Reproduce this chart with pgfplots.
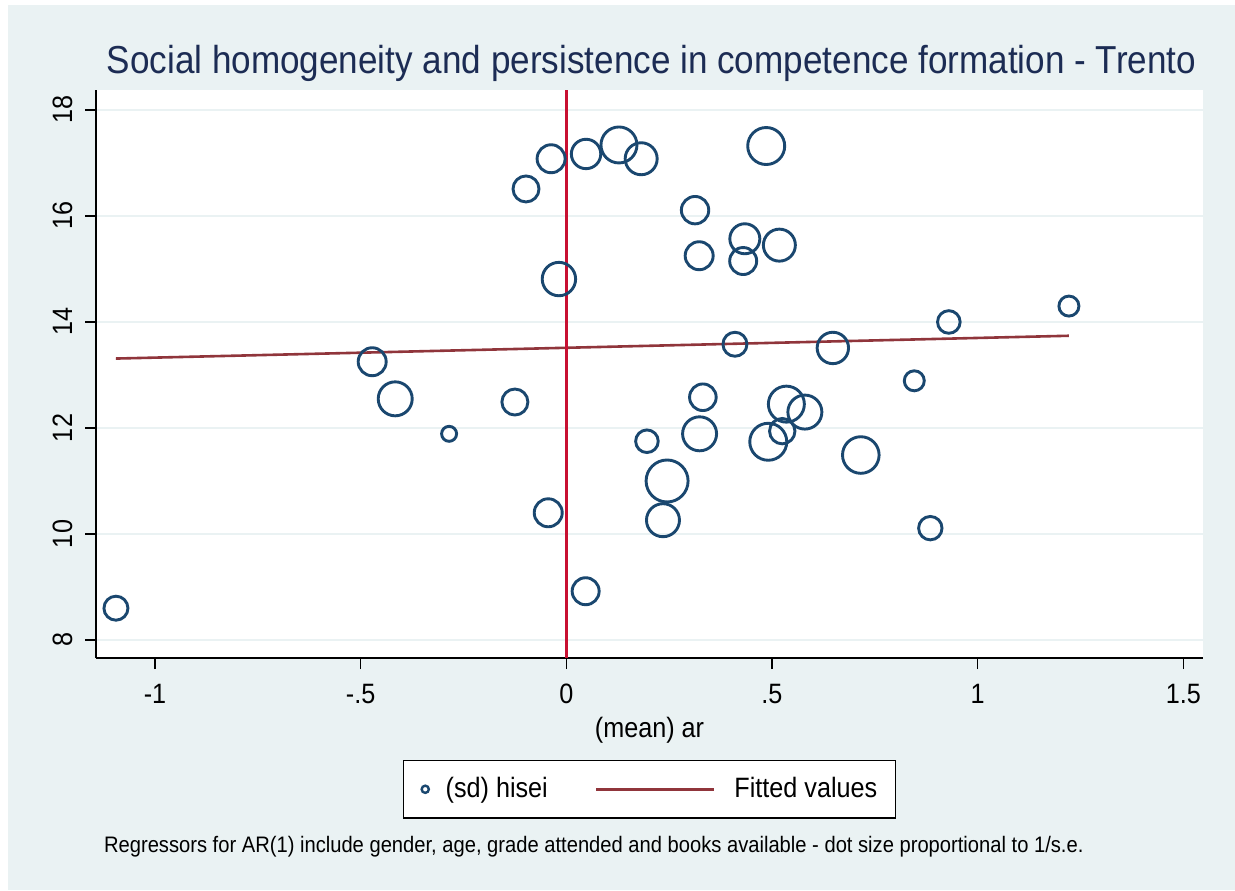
\documentclass[border=0pt]{standalone}
\usepackage{fontspec}
\setmainfont{Liberation Sans}[FakeStretch=0.9]
\usepackage{pgfplots}
\pgfplotsset{compat=1.18}
\definecolor{bg}{RGB}{234,242,243}
\definecolor{navy}{RGB}{26,71,111}
\definecolor{maroon}{RGB}{144,53,59}
\definecolor{crim}{RGB}{200,16,50}
\definecolor{titlec}{RGB}{28,44,84}
\pgfplotsset{
  legline/.style={legend image code/.code={\draw[##1] (0pt,0pt) -- (59pt,0pt);}},
  legmark/.style={legend image code/.code={\draw[##1] plot coordinates {(0pt,0pt)};}},
}
\begin{document}
\begin{tikzpicture}
\useasboundingbox (0pt,0pt) rectangle (617.5pt,445pt);
\fill[bg] (4pt,0pt) rectangle (617.5pt,442.5pt);
\node[anchor=base, text=titlec, font=\fontsize{19.5}{23}\selectfont] at (325.75pt,408pt)
  {Social homogeneity and persistence in competence formation - Trento};
\node[anchor=base west, font=\fontsize{11.2}{13}\selectfont] at (48.5pt,18.6pt)
  {Regressors for AR(1) include gender, age, grade attended and books available - dot size proportional to 1/s.e.};
\begin{axis}[
  at={(48pt,116pt)}, anchor=south west,
  width=553.5pt, height=284pt, scale only axis,
  xmin=-1.1435, xmax=1.548, ymin=7.66, ymax=18.377,
  axis background/.style={fill=white},
  axis lines*=left,
  axis line style={-, black, line width=0.6pt},
  tick align=outside, major tick length=5.5pt,
  tick style={black, line width=0.6pt},
  xtick={-1,-0.5,0,0.5,1,1.5},
  xticklabels={-1,-.5,0,.5,1,1.5},
  ytick={8,10,12,14,16,18},
  yticklabels={8,10,12,14,16,18},
  /pgf/number format/assume math mode=true,
  ticklabel style={font=\fontsize{14}{16}\selectfont},
  xticklabel style={anchor=base, yshift=-17pt},
  yticklabel style={xshift=-6.5pt, rotate=90, anchor=base},
  xlabel={(mean) ar},
  xlabel style={at={(axis description cs:0.5,0)}, anchor=base, yshift=-39.5pt, font=\fontsize{14}{16}\selectfont},
  ymajorgrids,
  grid style={bg, line width=1.35pt},
  legend columns=2,
  legend style={at={(0.5,-0.1796)}, anchor=north, draw=black, line width=0.6pt, fill=white,
    font=\fontsize{14}{16}\selectfont, inner xsep=9.2pt, inner ysep=8.5pt,
    nodes={inner sep=0pt},
    /tikz/column 1/.style={column sep=8.4pt},
    /tikz/column 2/.style={column sep=23.5pt},
    /tikz/column 3/.style={column sep=9.5pt}},
]
\addplot[scatter, only marks, mark=o, line width=1.45pt, forget plot,
  scatter/use mapped color={draw=navy},
  visualization depends on={\thisrow{r}\as\rad},
  scatter/@pre marker code/.append style={/tikz/mark size=\rad}]
table[x=x, y=y] {
x y r
-1.095 8.60 6.0
-0.472 13.25 7.0
-0.416 12.55 8.5
-0.285 11.89 3.75
-0.125 12.49 6.5
-0.098 16.51 6.5
-0.044 10.40 7.0
-0.037 17.08 7.0
-0.018 14.81 8.35
0.048 17.17 7.35
0.047 8.92 6.75
0.128 17.34 9.0
0.182 17.08 8.0
0.196 11.75 5.65
0.235 10.26 8.25
0.245 11.00 10.5
0.313 16.11 6.85
0.323 15.25 7.0
0.324 11.89 8.5
0.332 12.58 6.65
0.410 13.58 6.0
0.430 15.15 6.75
0.434 15.57 7.5
0.486 17.32 9.25
0.491 11.74 9.25
0.518 15.45 8.0
0.525 11.94 6.35
0.535 12.45 9.0
0.580 12.30 8.5
0.648 13.51 7.85
0.716 11.49 9.15
0.846 12.89 5.0
0.885 10.11 5.85
0.930 14.00 5.65
1.222 14.30 5.0
};
\addlegendimage{only marks, mark=o, navy, mark size=1.8pt, line width=1.2pt, legmark}
\addlegendentry{(sd) hisei}
\addplot[maroon, line width=1.3pt, legline]
coordinates {(-1.095,13.31) (1.222,13.74)};
\addlegendentry{Fitted values}
\addplot[crim, line width=1.5pt, forget plot] coordinates {(0,7.66) (0,18.377)};
\end{axis}
\end{tikzpicture}
\end{document}
